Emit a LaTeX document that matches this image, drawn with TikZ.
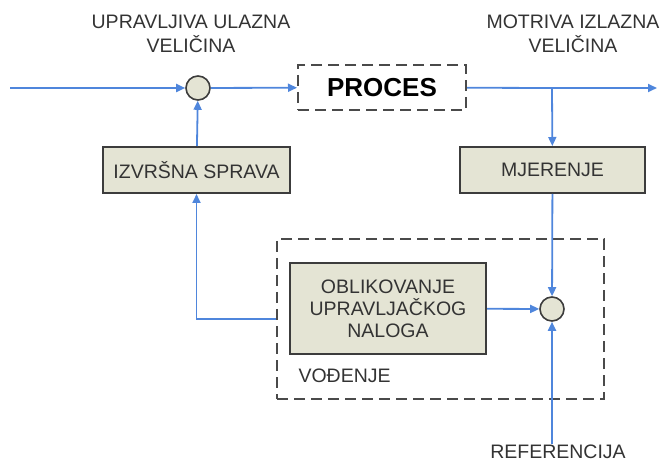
\documentclass[tikz,border=0pt]{standalone}
\usepackage{fontspec}
\setmainfont{Liberation Sans}
\usetikzlibrary{arrows.meta}

\begin{document}
\begin{tikzpicture}[x=1pt,y=-1pt,
  blok/.style={draw=boxline,fill=boxfill,line width=2pt,minimum height=46pt,text=txt,font=\fontsize{19.5}{22}\selectfont},
  zbroj/.style={circle,draw=boxline,fill=boxfill,line width=1.6pt,minimum size=24pt,inner sep=0pt},
  okvir/.style={draw=dashgray,line width=2pt,dash pattern=on 11pt off 6pt},
  veza/.style={draw=signal,line width=1.8pt,-{Triangle[length=9pt,width=8pt]}},
  natpis/.style={text=txt,font=\fontsize{19.5}{24}\selectfont,align=center}]
\definecolor{boxfill}{HTML}{E4E4D4}
\definecolor{boxline}{HTML}{3C3C3C}
\definecolor{dashgray}{HTML}{4A4A4A}
\definecolor{signal}{HTML}{4F86DC}
\definecolor{txt}{HTML}{333333}
\useasboundingbox (0,0) rectangle (664,462);
% bloki
\node[okvir,minimum width=327pt,minimum height=160pt] (vodjenje) at (440.5,319) {};
\node[okvir,minimum width=168pt,minimum height=45pt,text=black,font=\bfseries\fontsize{26}{30}\selectfont] (proces) at (382,87.5) {PROCES};
\node[blok,minimum width=187pt] (izvrsna) at (196.5,170) {IZVRŠNA SPRAVA};
\node[blok,minimum width=185pt] (mjerenje) at (552.5,170) {MJERENJE};
\node[blok,minimum width=196pt,minimum height=91pt,align=center] (oblik) at (388,308.5) {OBLIKOVANJE\\UPRAVLJAČKOG\\NALOGA};
\node[zbroj] (z1) at (198,88) {};
\node[zbroj] (z2) at (552,309) {};
% natpisi
\node[natpis] (ulazLbl) at (191,34) {UPRAVLJIVA ULAZNA\\VELIČINA};
\node[natpis] (izlazLbl) at (573,34) {MOTRIVA IZLAZNA\\VELIČINA};
\node[natpis] (refLbl) at (558,452) {REFERENCIJA};
\node[natpis,anchor=west] (vodLbl) at (295,376) {VOĐENJE};
% signali
\coordinate (ulaz) at (10,88);
\coordinate (izlaz) at (657,88);
\coordinate (grana) at (552,88);
\coordinate (ref) at (552,444);
\draw[draw=signal,line width=1.8pt] (proces) -- (grana);
\foreach \iz/\u in {ulaz/z1,z1/proces,grana/izlaz,grana/mjerenje,izvrsna/z1,mjerenje/z2,oblik/z2,ref/z2}
  {\draw[veza] (\iz) -- (\u);}
\draw[veza] (vodjenje.west) -| (izvrsna);
\end{tikzpicture}
\end{document}
